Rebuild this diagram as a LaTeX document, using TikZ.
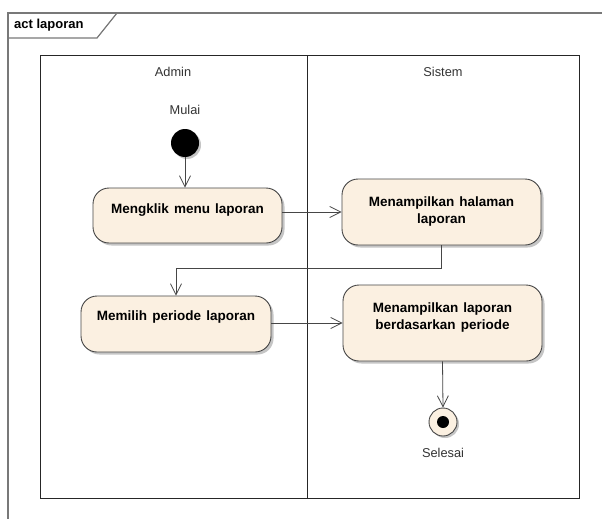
\documentclass[tikz,border=0pt]{standalone}
\usepackage{fontspec}
\setmainfont{Liberation Sans}
\usetikzlibrary{arrows.meta,shadows}
\definecolor{cream}{RGB}{251,240,225}
\definecolor{edge}{RGB}{70,70,70}
\definecolor{framec}{RGB}{120,120,120}
\newcommand{\actfont}{\bfseries\fontsize{13.5}{17}\selectfont\spaceskip=5.2pt\relax}
\tikzset{
  actbox/.style={draw=edge, line width=0.9pt, fill=cream, rounded corners=16pt,
    drop shadow={shadow xshift=2.5pt, shadow yshift=-2.5pt, fill=black!45, opacity=.5}},
  acttext/.style={font=\actfont, align=center, inner sep=0pt},
  plain/.style={font=\fontsize{12.8}{15}\selectfont, inner sep=0pt, text=black!80},
  flow/.style={draw=edge, line width=0.8pt, -{Straight Barb[length=11pt,width=11pt,line width=0.8pt]}},
  lane/.style={draw=black!85, line width=1pt}
}
\begin{document}
\begin{tikzpicture}[x=1pt,y=-1pt]
\useasboundingbox (0,0) rectangle (602,519);
\clip (0,0) rectangle (602,519);
\fill[white] (0,0) rectangle (602,519);
% outer frame
\draw[framec, line width=1.2pt] (8,13) rectangle (640,560);
\draw[framec, line width=1.2pt] (8,38) -- (97,38) -- (117,13);
\node[anchor=west, font=\bfseries\fontsize{13}{15}\selectfont, inner sep=0pt] (frametitle) at (14,25) {act laporan};
% swimlanes
\draw[lane] (40,56) rectangle (579,498);
\draw[lane, line width=1.4pt] (307.5,56) -- (307.5,498);
\node[plain] (hadmin) at (173,72) {Admin};
\node[plain] (hsistem) at (443,72) {Sistem};
% start
\node[plain] (lmulai) at (185,110) {Mulai};
\node[circle, fill=black, minimum size=28pt, inner sep=0pt,
  drop shadow={shadow xshift=2pt, shadow yshift=-2pt, fill=black!45, opacity=.5}] (start) at (185,143) {};
% actions
\node[actbox, minimum width=189pt, minimum height=55pt] (a1) at (187.5,215.5) {};
\node[acttext] (t1) at ([yshift=5.5pt]a1.center) {Mengklik menu laporan};
\node[actbox, minimum width=199pt, minimum height=66pt] (a2) at (441.5,212) {};
\node[acttext] (t2) at ([yshift=0.5pt]a2.center) {Menampilkan halaman\\laporan};
\node[actbox, minimum width=190pt, minimum height=56pt] (a3) at (176,324) {};
\node[acttext] (t3) at ([yshift=7pt]a3.center) {Memilih periode laporan};
\node[actbox, minimum width=199pt, minimum height=76pt] (a4) at (442.5,323) {};
\node[acttext] (t4) at ([yshift=5.5pt]a4.center) {Menampilkan laporan\\berdasarkan periode};
% final
\node[circle, draw=edge, line width=0.9pt, fill=cream, minimum size=28pt, inner sep=0pt,
  drop shadow={shadow xshift=2pt, shadow yshift=-2pt, fill=black!45, opacity=.5}] (final) at (443,422) {};
\node[circle, fill=black, minimum size=12pt, inner sep=0pt] (finaldot) at (final.center) {};
\node[plain] (lselesai) at (443,453) {Selesai};
% flows
\draw[flow] (start) -- (a1.north -| start);
\draw[flow] (a1.east |- a2.west) -- (a2.west);
\draw[flow] (a2.south) -- ++(0,23) -| (a3.north);
\draw[flow] (a3.east |- a4.west) -- (a4.west);
\draw[flow] (a4.south) -- (final.north);
\end{tikzpicture}
\end{document}
